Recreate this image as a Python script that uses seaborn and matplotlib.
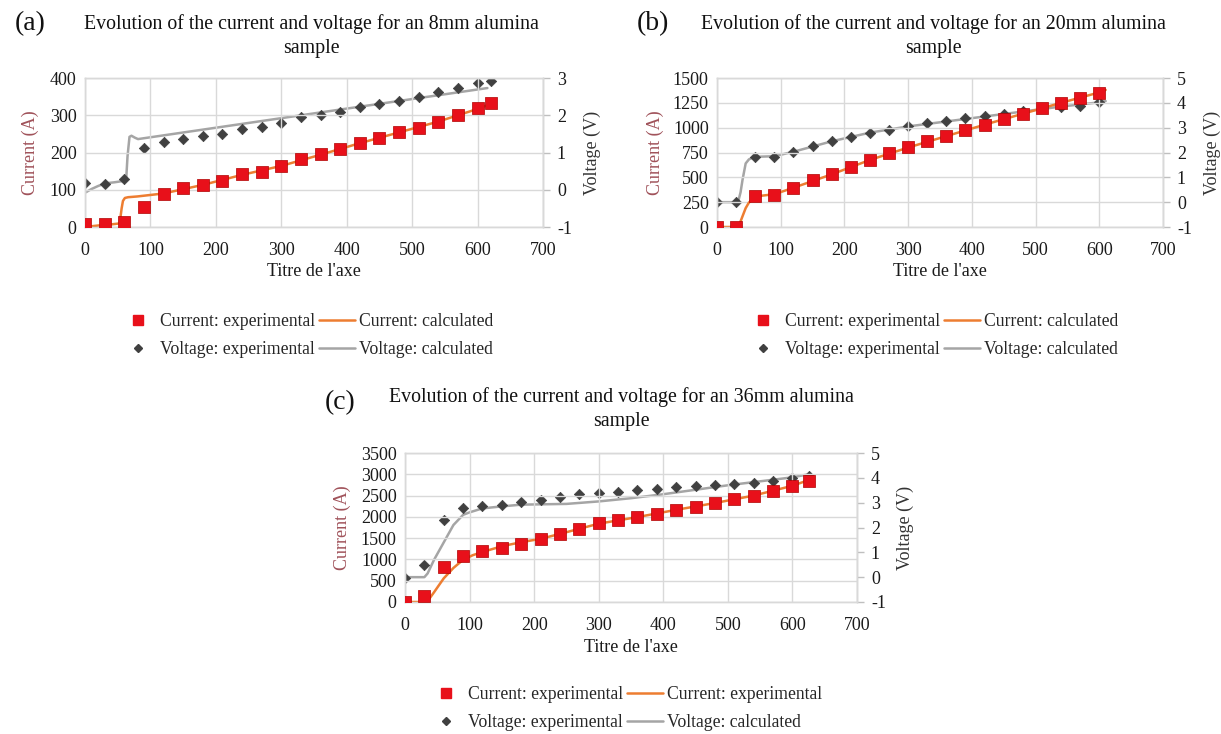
import matplotlib
matplotlib.use("Agg")
import matplotlib.pyplot as plt
from matplotlib.lines import Line2D
import seaborn as sns
import pandas as pd

# ---------------- DATA ----------------
# Panel (a): 8 mm
A_x = [0, 30, 60, 90, 120, 150, 180, 210, 240, 270, 300, 330, 360, 390, 420, 450, 480, 510, 540, 570, 600, 620]
A_cur = [8, 8, 13, 55, 89, 106, 113, 124, 141, 148, 165, 183, 195, 210, 226, 240, 255, 267, 283, 300, 319, 334]
A_volt = [0.19, 0.16, 0.28, 1.12, 1.27, 1.36, 1.44, 1.51, 1.64, 1.68, 1.80, 1.94, 2.01, 2.10, 2.21, 2.30,
          2.39, 2.50, 2.62, 2.74, 2.87, 2.92]
A_ccalc_x = [0, 20, 40, 50, 53, 56, 58, 61, 66, 80, 120, 180, 240, 300, 360, 420, 480, 540, 600, 615]
A_ccalc = [0, 4, 7, 9, 10, 50, 70, 78, 80, 82, 90, 113, 140, 164, 194, 225, 254, 283, 317, 327]
A_vcalc_x = [0, 10, 20, 30, 45, 60, 63, 65, 68, 71, 76, 81, 615]
A_vcalc = [-0.08, 0.02, 0.10, 0.17, 0.20, 0.24, 0.30, 0.90, 1.42, 1.45, 1.40, 1.36, 2.73]

# Panel (b): 20 mm
B_x = [0, 30, 60, 90, 120, 150, 180, 210, 240, 270, 300, 330, 360, 390, 420, 450, 480, 510, 540, 570, 600]
B_cur = [0, 0, 317, 323, 397, 473, 530, 607, 673, 740, 804, 865, 916, 977, 1028, 1086, 1137, 1195, 1245, 1296, 1350]
B_volt = [0.01, 0.01, 1.80, 1.80, 2.03, 2.27, 2.45, 2.63, 2.79, 2.89, 3.06, 3.18, 3.26, 3.37, 3.48, 3.57,
          3.68, 3.78, 3.82, 3.89, 4.02]
B_ccalc_x = [0, 33, 36, 40, 45, 50, 56, 60, 70, 90, 120, 180, 240, 300, 360, 420, 480, 540, 600, 610]
B_ccalc = [0, 0, 40, 107, 190, 245, 285, 300, 315, 330, 395, 530, 675, 800, 915, 1030, 1140, 1250, 1355, 1380]
B_vcalc_x = [0, 33, 37, 40, 45, 50, 56, 65, 90, 120, 180, 240, 300, 360, 420, 480, 540, 600, 610]
B_vcalc = [0, 0, 0.40, 0.89, 1.56, 1.72, 1.80, 1.83, 1.85, 2.03, 2.45, 2.80, 3.05, 3.25, 3.45, 3.65, 3.85, 4.02, 4.07]

# Panel (c): 36 mm
C_x = [0, 30, 60, 90, 120, 150, 180, 210, 240, 270, 300, 330, 360, 390, 420, 450, 480, 510, 540, 570, 600, 625]
C_cur = [10, 143, 817, 1087, 1190, 1270, 1373, 1484, 1603, 1722, 1849, 1921, 1989, 2067, 2161, 2240, 2318,
         2412, 2498, 2615, 2733, 2850]
C_volt = [-0.02, 0.50, 2.29, 2.78, 2.85, 2.92, 3.01, 3.12, 3.22, 3.33, 3.38, 3.44, 3.50, 3.56, 3.62, 3.66,
          3.70, 3.76, 3.81, 3.89, 3.98, 4.07]
C_ccalc_x = [0, 30, 35, 45, 60, 75, 90, 105, 120, 150, 180, 210, 240, 300, 360, 420, 480, 540, 600, 628]
C_ccalc = [0, 0, 20, 230, 556, 800, 992, 1100, 1175, 1310, 1405, 1484, 1600, 1840, 1995, 2165, 2325, 2500, 2730, 2880]
C_vcalc_x = [0, 30, 35, 45, 60, 75, 90, 100, 120, 150, 180, 250, 300, 350, 400, 450, 500, 550, 600, 628]
C_vcalc = [0, 0, 0.15, 0.70, 1.40, 2.10, 2.51, 2.61, 2.77, 2.85, 2.92, 2.95, 3.05, 3.18, 3.34, 3.52, 3.70, 3.86, 4.02, 4.16]

TITLES = ["Evolution of the current and voltage for an 8mm alumina\nsample",
          "Evolution of the current and voltage for an 20mm alumina\nsample",
          "Evolution of the current and voltage for an 36mm alumina\nsample"]
LETTERS = ["(a)", "(b)", "(c)"]
LEGENDS = [["Current: experimental", "Current: calculated", "Voltage: experimental", "Voltage: calculated"],
           ["Current: experimental", "Current: calculated", "Voltage: experimental", "Voltage: calculated"],
           ["Current: experimental", "Current: experimental", "Voltage: experimental", "Voltage: calculated"]]
X_TICKS = [0, 100, 200, 300, 400, 500, 600, 700]
CUR_TICKS = [[0, 100, 200, 300, 400],
             [0, 250, 500, 750, 1000, 1250, 1500],
             [0, 500, 1000, 1500, 2000, 2500, 3000, 3500]]
VOLT_TICKS = [[-1, 0, 1, 2, 3], [-1, 0, 1, 2, 3, 4, 5], [-1, 0, 1, 2, 3, 4, 5]]
X_LABEL = "Titre de l'axe"
CUR_LABEL = "Current (A)"
VOLT_LABEL = "Voltage (V)"

# ---------------- STYLE ----------------
sns.set_theme(style="white")
plt.rcParams["font.family"] = ["Liberation Serif", "DejaVu Serif"]

RED = "#E8101A"
RED_EDGE = "#B00000"
DARK = "#404040"
ORANGE = "#ED7D31"
GREY = "#A5A5A5"
GRID = "#D9D9D9"
LABEL_RED = "#A0525A"

W, H = 1221, 734
fig = plt.figure(figsize=(W / 100, H / 100), dpi=100)
fig.patch.set_facecolor("white")


def fx(px):
    return px / W


def fy(py):
    return 1 - py / H


# pixel boxes: left, right, top, bottom
boxes = [(85, 543, 78, 227), (717, 1163, 78, 227), (405, 857, 453, 602)]
title_pos = [(311, 36), (933, 36), (621, 409)]
letter_pos = [(30, 24), (653, 24), (340, 403)]
legend_pos = [(120, 313), (745, 313), (428, 686)]
ylab_x = [30, 655, 342]
vlab_x = [592, 1212, 905]

datasets = [
    (A_x, A_cur, A_volt, A_ccalc_x, A_ccalc, A_vcalc_x, A_vcalc),
    (B_x, B_cur, B_volt, B_ccalc_x, B_ccalc, B_vcalc_x, B_vcalc),
    (C_x, C_cur, C_volt, C_ccalc_x, C_ccalc, C_vcalc_x, C_vcalc),
]

TICK_FS = 13
for i, (xs, cur, volt, ccx, cc, vcx, vc) in enumerate(datasets):
    l, r, t, b = boxes[i]
    ax = fig.add_axes([fx(l), fy(b), fx(r - l), (b - t) / H])
    ax2 = ax.twinx()

    cmax = CUR_TICKS[i][-1]
    vmin, vmax = VOLT_TICKS[i][0], VOLT_TICKS[i][-1]

    df_exp = pd.DataFrame({"t": xs, "cur": cur, "volt": volt})
    df_cc = pd.DataFrame({"t": ccx, "cur": cc})
    df_vc = pd.DataFrame({"t": vcx, "volt": vc})

    # voltage on twin axis (drawn beneath current)
    ax2.set_zorder(ax.get_zorder() + 1)
    ax.set_zorder(ax2.get_zorder() + 1)
    ax.patch.set_visible(False)

    sns.lineplot(data=df_vc, x="t", y="volt", ax=ax2, color=GREY, linewidth=1.8,
                 sort=False, estimator=None, legend=False)
    sns.scatterplot(data=df_exp, x="t", y="volt", ax=ax2, marker="D", s=28,
                    color=DARK, edgecolor=DARK, linewidth=0.5, legend=False, zorder=4)
    sns.lineplot(data=df_cc, x="t", y="cur", ax=ax, color=ORANGE, linewidth=1.8,
                 sort=False, estimator=None, legend=False)
    sns.scatterplot(data=df_exp, x="t", y="cur", ax=ax, marker="s", s=66,
                    color=RED, edgecolor=RED_EDGE, linewidth=0.5, legend=False, zorder=5)

    ax.set_xlim(0, 700)
    ax.set_ylim(0, cmax)
    ax2.set_ylim(vmin, vmax)
    ax.set_xticks(X_TICKS)
    ax.set_yticks(CUR_TICKS[i])
    ax2.set_yticks(VOLT_TICKS[i])
    ax.set_xticklabels([str(v) for v in X_TICKS], fontsize=TICK_FS)
    ax.set_yticklabels([str(v) for v in CUR_TICKS[i]], fontsize=TICK_FS)
    ax2.set_yticklabels([str(v) for v in VOLT_TICKS[i]], fontsize=TICK_FS)

    ax.grid(True, color=GRID, linewidth=1.0)
    ax.set_axisbelow(True)
    ax2.grid(False)
    for a in (ax, ax2):
        for s in a.spines.values():
            s.set_color(GRID)
            s.set_linewidth(1.0)
    ax2.spines["right"].set_color("#BFBFBF")
    ax.tick_params(axis="x", length=0, pad=11, colors="#1a1a1a")
    ax.tick_params(axis="y", length=0, pad=6, colors="#1a1a1a")
    ax2.tick_params(axis="y", length=5, width=1, color="#BFBFBF", pad=5, labelcolor="#1a1a1a")

    ax.set_xlabel("")
    ax.set_ylabel("")
    ax2.set_ylabel("")

    # axis titles
    fig.text(fx((l + r) / 2), fy(b + 45), X_LABEL, ha="center", va="center", fontsize=TICK_FS, color="#1a1a1a")
    fig.text(fx(ylab_x[i]), fy((t + b) / 2), CUR_LABEL, rotation=90, ha="center", va="center",
             fontsize=TICK_FS, color=LABEL_RED)
    fig.text(fx(vlab_x[i]), fy((t + b) / 2), VOLT_LABEL, rotation=90, ha="center", va="center",
             fontsize=TICK_FS, color="#333333")

    # title and panel letter
    fig.text(fx(title_pos[i][0]), fy(title_pos[i][1]), TITLES[i], ha="center", va="center",
             fontsize=14.3, color="#111111", linespacing=1.3)
    fig.text(fx(letter_pos[i][0]), fy(letter_pos[i][1]), LETTERS[i], ha="center", va="center",
             fontsize=20, color="#111111")

    # legend
    labels = LEGENDS[i]
    h_cexp = Line2D([], [], linestyle="none", marker="s", markersize=7, color=RED, markeredgecolor=RED)
    h_ccal = Line2D([], [], color=ORANGE, linewidth=1.8)
    h_vexp = Line2D([], [], linestyle="none", marker="D", markersize=4.5, color=DARK, markeredgecolor=DARK)
    h_vcal = Line2D([], [], color=GREY, linewidth=1.8)
    fig.legend([h_cexp, h_vexp, h_ccal, h_vcal], [labels[0], labels[2], labels[1], labels[3]],
               ncol=2, loc="upper left", bbox_to_anchor=(fx(legend_pos[i][0]), fy(legend_pos[i][1])),
               frameon=False, fontsize=12.7, handlelength=2.0, handletextpad=0.25, columnspacing=0.25,
               labelspacing=0.65, borderaxespad=0, borderpad=0)

fig.savefig("out.png", dpi=100, facecolor="white")
